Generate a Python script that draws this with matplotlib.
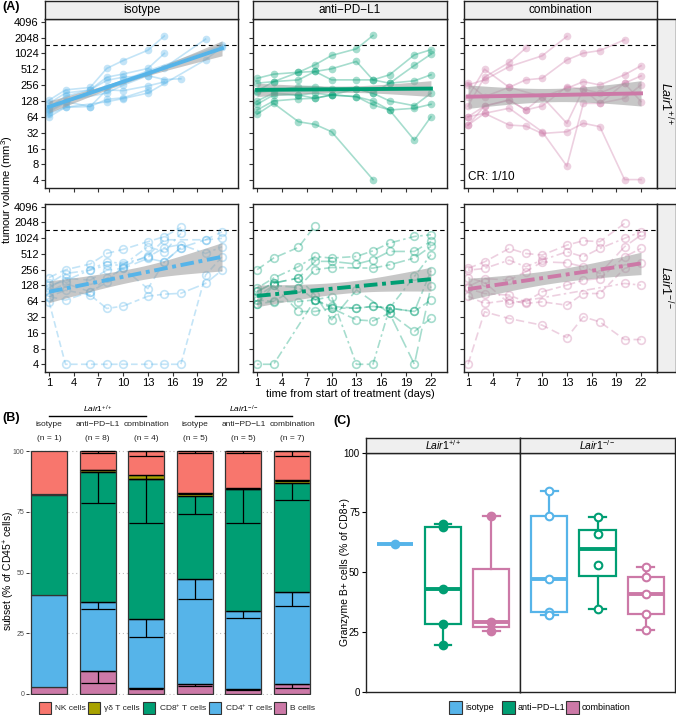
import numpy as np
import matplotlib.pyplot as plt
from matplotlib.patches import Rectangle
from matplotlib.transforms import blended_transform_factory

plt.rcParams['font.family'] = ['Liberation Sans', 'DejaVu Sans']
plt.rcParams['mathtext.fontset'] = 'custom'
plt.rcParams['mathtext.rm'] = 'Liberation Sans'
plt.rcParams['mathtext.it'] = 'Liberation Sans:italic'
plt.rcParams['mathtext.bf'] = 'Liberation Sans:bold'

nan = np.nan

# ---------------- data, panel A: tumour volume, log2(mm3), one row per mouse
days = [1, 3, 6, 8, 10, 13, 15, 17, 20, 22]
groups = ['isotype', 'anti\u2212PD\u2212L1', 'combination']
colors = ['#56B4E9', '#009E73', '#CC79A7']

wt_isotype = [
    [7.05, 7.7, 7.85, 9.05, 9.55, 10.2, 11.1, nan, nan, nan],
    [6.85, 7.5, 7.7, 8.5, 8.7, 9.05, 10.0, nan, nan, nan],
    [6.6, 7.3, 7.7, 8.3, 8.5, 8.6, 8.35, 8.4, nan, nan],
    [6.4, 6.95, 6.65, 7.7, 7.65, 7.95, 8.2, nan, nan, nan],
    [6.2, 6.6, 6.65, 7.1, 7.2, 7.7, nan, nan, nan, nan],
    [6.5, 7.0, nan, 7.5, 8.0, 8.6, 9.1, nan, 10.9, nan],
    [6.0, 6.6, nan, 6.95, 7.15, 7.5, nan, nan, 9.6, 10.4],
    [6.3, 6.9, nan, 7.9, 8.3, 8.9, nan, nan, nan, 10.5],
]
wt_anti = [
    [8.43, 8.69, 8.81, 9.28, 9.87, 10.29, 11.13, nan, nan, nan],
    [8.12, 8.22, 8.33, 8.86, 9.03, 9.49, 8.33, 8.65, 9.91, 10.23],
    [7.63, 8.22, 8.81, 8.86, 8.33, 8.33, 8.33, 8.12, 8.27, 8.65],
    [7.55, 7.63, 7.91, 7.91, 7.76, 7.76, 7.49, 7.0, 6.7, 7.49],
    [6.79, 7.38, 7.38, 7.49, 7.38, 7.27, 6.75, 6.43, 6.54, 6.79],
    [6.43, 7.0, 7.13, 7.17, 7.38, 7.76, 7.49, 8.12, 9.24, 9.95],
    [6.16, 6.85, 5.69, 5.52, 5.06, nan, 2.04, nan, nan, nan],
    [7.0, 7.5, 7.38, 7.17, 7.38, 7.27, 7.0, 6.43, 4.53, 6.0],
]
wt_combo = [
    [6.68, 8.5, 9.43, 10.33, nan, nan, nan, nan, nan, nan],
    [8.01, 8.33, 9.17, nan, 9.85, 11.07, nan, nan, nan, nan],
    [7.27, 9.0, 7.86, 8.33, 8.43, 9.59, 10.02, 10.18, 10.86, nan],
    [8.12, 7.27, 7.86, nan, 7.27, 7.8, 8.22, 8.01, 8.65, 9.22],
    [6.0, 6.68, 7.06, 6.43, 6.68, 7.9, 7.74, 6.85, 8.12, 8.58],
    [5.48, 6.22, 6.54, nan, 5.06, 2.89, 6.85, 6.85, 7.17, 8.01],
    [6.0, 6.22, 5.48, 5.42, 4.95, 5.06, 5.59, 5.38, 2.04, 2.04],
    [5.48, 6.68, 7.06, 6.43, 7.27, 5.59, 7.74, 7.5, 8.12, 6.96],
]
ko_isotype = [
    [7.5, 8.0, 8.36, 9.03, 9.29, 9.78, 10.1, 10.69, nan, nan],
    [7.13, 7.76, 7.97, 8.3, 8.3, 9.46, 9.14, 10.3, nan, nan],
    [6.87, 7.45, 7.34, 7.97, 8.08, 8.72, 8.5, 9.4, 9.9, 10.4],
    [6.28, 6.7, 6.4, 5.54, 5.69, 6.32, 6.45, 6.5, 7.13, 7.97],
    [5.96, 2.0, 2.0, 2.0, 2.0, 2.0, 2.0, 2.0, 7.66, 8.82],
    [6.3, 6.07, 6.6, 7.2, 8.2, 8.9, 9.9, nan, 9.9, 9.99],
    [7.0, 7.3, 8.0, 8.5, 8.4, 8.8, 9.4, 9.6, 9.03, 9.46],
    [6.6, 7.13, 6.6, 7.45, 8.08, 6.8, 8.5, 9.4, nan, nan],
]
ko_anti = [
    [8.0, 8.74, 9.42, 10.8, nan, nan, nan, nan, nan, nan],
    [6.83, 7.47, 8.2, 8.84, 8.74, 8.84, 9.2, 9.69, 10.11, 10.22],
    [6.62, 7.15, 7.47, 8.53, 8.53, 8.36, 8.63, 9.16, 9.16, 9.8],
    [6.3, 7.0, 6.87, 8.0, 8.14, nan, 8.1, 8.31, 8.74, 9.48],
    [6.09, 5.98, 5.98, 6.09, 5.67, 5.56, 5.67, 5.56, 5.35, 6.09],
    [5.81, 7.0, 5.35, 5.35, 5.56, 4.82, 4.75, 5.24, 4.08, 4.92],
    [2.0, 2.0, nan, 6.09, 6.3, 2.0, 2.0, 5.56, 7.57, 8.95],
    [6.62, 7.15, 7.47, 6.4, 4.82, 6.72, nan, 5.24, 2.0, 6.94],
    [5.81, 6.0, 6.87, 6.09, 5.56, 5.56, 5.67, 5.56, 5.35, 7.93],
]
ko_combo = [
    [8.08, 8.5, 9.35, 9.03, 8.93, 9.56, 9.84, 9.78, 10.94, nan],
    [7.97, 8.08, 8.61, 8.19, 8.61, 9.14, 8.82, 9.35, 9.99, 10.41],
    [6.92, 7.44, 7.34, 7.87, 8.5, 8.44, 8.19, 7.76, 9.46, 10.2],
    [6.81, 6.49, 6.39, 5.96, 6.6, 7.02, 7.34, 7.44, 8.82, 9.35],
    [6.32, 5.86, 6.07, 5.86, 5.96, 5.75, 6.49, 6.49, 8.08, 8.4],
    [2.0, 5.33, 4.9, nan, 4.48, 3.69, 5.01, 4.69, 3.57, 3.57],
    [7.5, 7.2, 5.86, nan, nan, nan, nan, nan, 7.13, 7.02],
]

# log-linear trend (log2 volume at day 1, day 22) and band half widths (day 1, mid, day 22)
wt_fit = [(6.63, 10.32), (7.70, 7.78), (7.27, 7.48)]
ko_fit = [(6.6, 8.82), (6.34, 7.4), (6.77, 8.4)]
wt_ci = [(0.37, 0.12, 0.47), (0.42, 0.2, 0.5), (0.74, 0.42, 0.8)]
ko_ci = [(0.69, 0.42, 0.9), (0.69, 0.37, 0.76), (0.69, 0.42, 0.71)]

# ---------------- data, panel B: % of CD45+ cells (segment heights, bottom to top)
b_groups = ['isotype', 'anti\u2212PD\u2212L1', 'combination'] * 2
b_n = [1, 8, 4, 5, 5, 7]
subsets = ['B cells', 'CD4$^{+}$ T cells', 'CD8$^{+}$ T cells', '\u03b3\u03b4 T cells', 'NK cells']
subset_colors = ['#CC79A7', '#56B4E9', '#009E73', '#A8A200', '#F8766D']
b_cells = [2.7, 9.5, 2.6, 4.0, 2.0, 4.0]
cd4 = [38.0, 28.4, 28.1, 43.2, 32.3, 38.1]
cd8 = [41.1, 53.5, 57.6, 34.5, 50.0, 44.8]
gd = [0.6, 1.0, 2.0, 1.1, 0.4, 1.1]
nk = [17.6, 7.6, 9.7, 17.2, 15.3, 12.0]
b_cells_sd = [nan, 4.9, 0.7, 0.7, 0.3, 1.4]
cd4_sd = [nan, 3.1, 7.3, 8.3, 3.2, 5.9]
cd8_sd = [nan, 12.7, 17.9, 7.7, 14.1, 6.9]
gd_sd = [nan, 0.3, 1.8, 0.3, 0.2, 0.4]
nk_sd = [nan, 1.0, 2.0, 1.0, 1.0, 2.0]

# ---------------- data, panel C: granzyme B+ (% of CD8+)
c_wt = [[62.0], [70.0, 69.0, 43.1, 28.5, 19.7], [73.5, 29.0, 25.3]]
c_ko = [[84.0, 73.5, 47.0, 33.5, 32.3], [73.2, 66.0, 53.2, 34.5], [52.0, 48.0, 40.7, 32.7, 26.0]]

# ---------------------------------------------------------------- layout helpers
W, H = 676, 715
fig = plt.figure(figsize=(W / 100, H / 100), dpi=100)


def box(l, t, r, b):
    return [l / W, 1 - b / H, (r - l) / W, (b - t) / H]


def fx(x):
    return x / W


def fy(y):
    return 1 - y / H


def strip(l, t, r, b, label, rot=0, size=8.5):
    s = fig.add_axes(box(l, t, r, b))
    s.set_facecolor('#EFEFEF')
    s.set_xticks([])
    s.set_yticks([])
    for sp in s.spines.values():
        sp.set_linewidth(1.0)
        sp.set_color('#222222')
    s.text(0.5, 0.5, label, rotation=rot, ha='center', va='center', fontsize=size,
           transform=s.transAxes)
    return s


# ---------------------------------------------------------------- panel A
col_lr = [(45, 238), (253, 447), (464, 657)]
row_tb = [(19, 188), (204, 372)]
wt_data = [wt_isotype, wt_anti, wt_combo]
ko_data = [ko_isotype, ko_anti, ko_combo]
ko_styles = [(0, (5, 2.5)), (0, (1.5, 2, 5, 2)), (0, (8, 3)), (0, (3, 2, 7, 2)), (0, (4, 2))]
xs_fit = np.linspace(1, 22, 80)

for r, (data, fits, cis) in enumerate([(wt_data, wt_fit, wt_ci), (ko_data, ko_fit, ko_ci)]):
    t, b = row_tb[r]
    for c, (l, rr) in enumerate(col_lr):
        ax = fig.add_axes(box(l, t, rr, b))
        ax.set_yscale('log', base=2)
        ax.set_ylim(2 ** 1.51, 2 ** 12.17)
        ax.set_xlim(0.51, 23.94)
        ax.axhline(1500, color='black', lw=0.8, ls=(0, (4, 3)), zorder=1)
        for k, mouse in enumerate(data[c]):
            d = np.array(days, float)
            v = np.array(mouse, float)
            ok = ~np.isnan(v)
            if r == 0:
                ax.plot(d[ok], 2 ** v[ok], color=colors[c], alpha=0.35, lw=1.2, marker='o',
                        ms=5.5, mew=0, zorder=2)
            else:
                ax.plot(d[ok], 2 ** v[ok], color=colors[c], alpha=0.35, lw=1.2,
                        ls=ko_styles[k % len(ko_styles)], marker='o', ms=5.5, mfc='none',
                        mew=1.2, zorder=2)
        s0, s1 = fits[c]
        e0, em, e1 = cis[c]
        line = s0 + (s1 - s0) * (xs_fit - 1) / 21
        e = np.where(xs_fit < 11.5, e0, e1)
        hw = np.sqrt(em ** 2 + (e ** 2 - em ** 2) * ((xs_fit - 11.5) / 10.5) ** 2)
        ax.fill_between(xs_fit, 2 ** (line - hw), 2 ** (line + hw), color='#9A9A9A',
                        alpha=0.55, lw=0, zorder=3)
        ax.plot(xs_fit, 2 ** line, color=colors[c], lw=2.8, zorder=4,
                ls='-' if r == 0 else (0, (3.5, 1.2, 1, 1.2)))
        ax.set_xticks([1, 4, 7, 10, 13, 16, 19, 22])
        ax.set_yticks([2 ** k for k in range(2, 13)])
        ax.minorticks_off()
        ax.tick_params(length=3, width=0.8, color='#333333', labelsize=8, pad=1.5)
        if c == 0:
            ax.set_yticklabels([str(2 ** k) for k in range(2, 13)])
        else:
            ax.set_yticklabels([])
        if r == 0:
            ax.set_xticklabels([])
        for sp in ax.spines.values():
            sp.set_linewidth(1.0)
            sp.set_color('#222222')
        if r == 0 and c == 2:
            ax.text(0.02, 0.03, 'CR: 1/10', transform=ax.transAxes, fontsize=8.5,
                    ha='left', va='bottom')

for c, (l, rr) in enumerate(col_lr):
    strip(l, 0.5, rr, 19, groups[c])
strip(657, 19, 675.5, 188, r'$\mathit{Lair1}^{+/+}$', rot=-90, size=9)
strip(657, 204, 675.5, 372, r'$\mathit{Lair1}^{-/-}$', rot=-90, size=9)

fig.text(fx(2), fy(7), '(A)', fontsize=9, fontweight='bold', ha='left', va='center')
fig.text(fx(7.5), fy(190), 'tumour volume (mm$^3$)', rotation=90, ha='center', va='center',
         fontsize=8)
fig.text(fx(350), fy(394), 'time from start of treatment (days)', ha='center', va='center',
         fontsize=8)

# ---------------------------------------------------------------- panel B
axb = fig.add_axes(box(29, 447.4, 313, 695.2))
axb.set_ylim(-0.5, 101.5)
axb.set_xlim(0.59, 6.43)
xb = np.arange(1, 7)
segs = [b_cells, cd4, cd8, gd, nk]
sds = [b_cells_sd, cd4_sd, cd8_sd, gd_sd, nk_sd]
bottom = np.zeros(6)
for seg, sd, col in zip(segs, sds, subset_colors):
    seg = np.array(seg)
    axb.bar(xb, seg, bottom=bottom, width=0.74, color=col, edgecolor='#333333', lw=0.9,
            zorder=2)
    top = bottom + seg
    sd = np.array(sd)
    ok = ~np.isnan(sd)
    axb.errorbar(xb[ok], top[ok], yerr=[sd[ok], np.zeros(ok.sum())], fmt='none',
                 ecolor='black', elinewidth=0.9, capsize=12, capthick=0.9, zorder=4)
    bottom = top
axb.set_yticks([0, 25, 50, 75, 100])
axb.set_xticks([])
axb.grid(axis='y', ls=(0, (1, 2.5)), color='#BBBBBB', lw=0.8, zorder=0)
axb.set_axisbelow(True)
for sp in axb.spines.values():
    sp.set_visible(False)
axb.tick_params(axis='y', length=2, width=0.7, color='#333333', labelsize=5,
                labelcolor='#4D4D4D', pad=1.5)

tb = blended_transform_factory(axb.transData, fig.transFigure)
for i in range(6):
    axb.text(xb[i], fy(425), b_groups[i], transform=tb, ha='center', va='center',
             fontsize=6, color='#222222')
    axb.text(xb[i], fy(438), '(n = %d)' % b_n[i], transform=tb, ha='center', va='center',
             fontsize=6, color='#222222')
for lo, hi, lab in [(1, 3, r'$\mathit{Lair1}^{+/+}$'), (4, 6, r'$\mathit{Lair1}^{-/-}$')]:
    axb.plot([lo, hi], [fy(416), fy(416)], transform=tb, color='black', lw=1.0,
             clip_on=False)
    axb.text((lo + hi) / 2, fy(409), lab, transform=tb, ha='center', va='center', fontsize=6)

fig.text(fx(2), fy(418), '(B)', fontsize=9, fontweight='bold', ha='left', va='center')
fig.text(fx(9), fy(571), 'subset (% of CD45$^{+}$ cells)', rotation=90, ha='center',
         va='center', fontsize=7.5)

key_x = [39, 88, 143, 209, 274]
for kx, lab, col in zip(key_x, subsets[::-1], subset_colors[::-1]):
    fig.add_artist(Rectangle((fx(kx), fy(714)), 12 / W, 12 / H, transform=fig.transFigure,
                             facecolor=col, edgecolor='#333333', lw=0.8))
    fig.text(fx(kx + 16), fy(708), lab, fontsize=6, ha='left', va='center', color='#222222')

# ---------------------------------------------------------------- panel C
c_pos = [1, 2, 3]
for f, (data, l, rr, filled, lab) in enumerate([
        (c_wt, 366, 520, True, r'$\mathit{Lair1}^{+/+}$'),
        (c_ko, 520, 675, False, r'$\mathit{Lair1}^{-/-}$')]):
    ax = fig.add_axes(box(l, 452.7, rr, 691.7))
    ax.set_ylim(0, 100)
    ax.set_xlim(0.4, 3.6)
    for i, vals in enumerate(data):
        col = colors[i]
        ax.boxplot([vals], positions=[c_pos[i]], widths=0.75, showfliers=False,
                   patch_artist=True, capwidths=0.35,
                   boxprops=dict(facecolor='white', edgecolor=col, lw=1.6),
                   whiskerprops=dict(color=col, lw=1.6),
                   capprops=dict(color=col, lw=1.6),
                   medianprops=dict(color=col, lw=2.8))
        ax.plot([c_pos[i]] * len(vals), vals, 'o', ms=5.5, mec=col,
                mfc=col if filled else 'white', mew=1.5, zorder=5)
    ax.set_xticks([])
    ax.set_yticks([0, 25, 50, 75, 100])
    ax.tick_params(axis='y', length=3, width=0.8, labelsize=7, pad=1.5)
    if f == 1:
        ax.set_yticklabels([])
        ax.tick_params(axis='y', length=0)
    for sp in ax.spines.values():
        sp.set_linewidth(1.0)
        sp.set_color('#222222')
    strip(l, 437.7, rr, 452.7, lab, size=7.5)

fig.text(fx(333), fy(421), '(C)', fontsize=9, fontweight='bold', ha='left', va='center')
fig.text(fx(345), fy(572), 'Granzyme B+ cells (% of CD8+)', rotation=90, ha='center',
         va='center', fontsize=7.5)

ckey_x = [449, 502, 566]
for kx, lab, col in zip(ckey_x, groups, colors):
    fig.add_artist(Rectangle((fx(kx), fy(713.5)), 13 / W, 13 / H, transform=fig.transFigure,
                             facecolor=col, edgecolor='#333333', lw=0.8))
    fig.text(fx(kx + 16), fy(707), lab, fontsize=6.5, ha='left', va='center')

fig.savefig('out.png', dpi=100)
